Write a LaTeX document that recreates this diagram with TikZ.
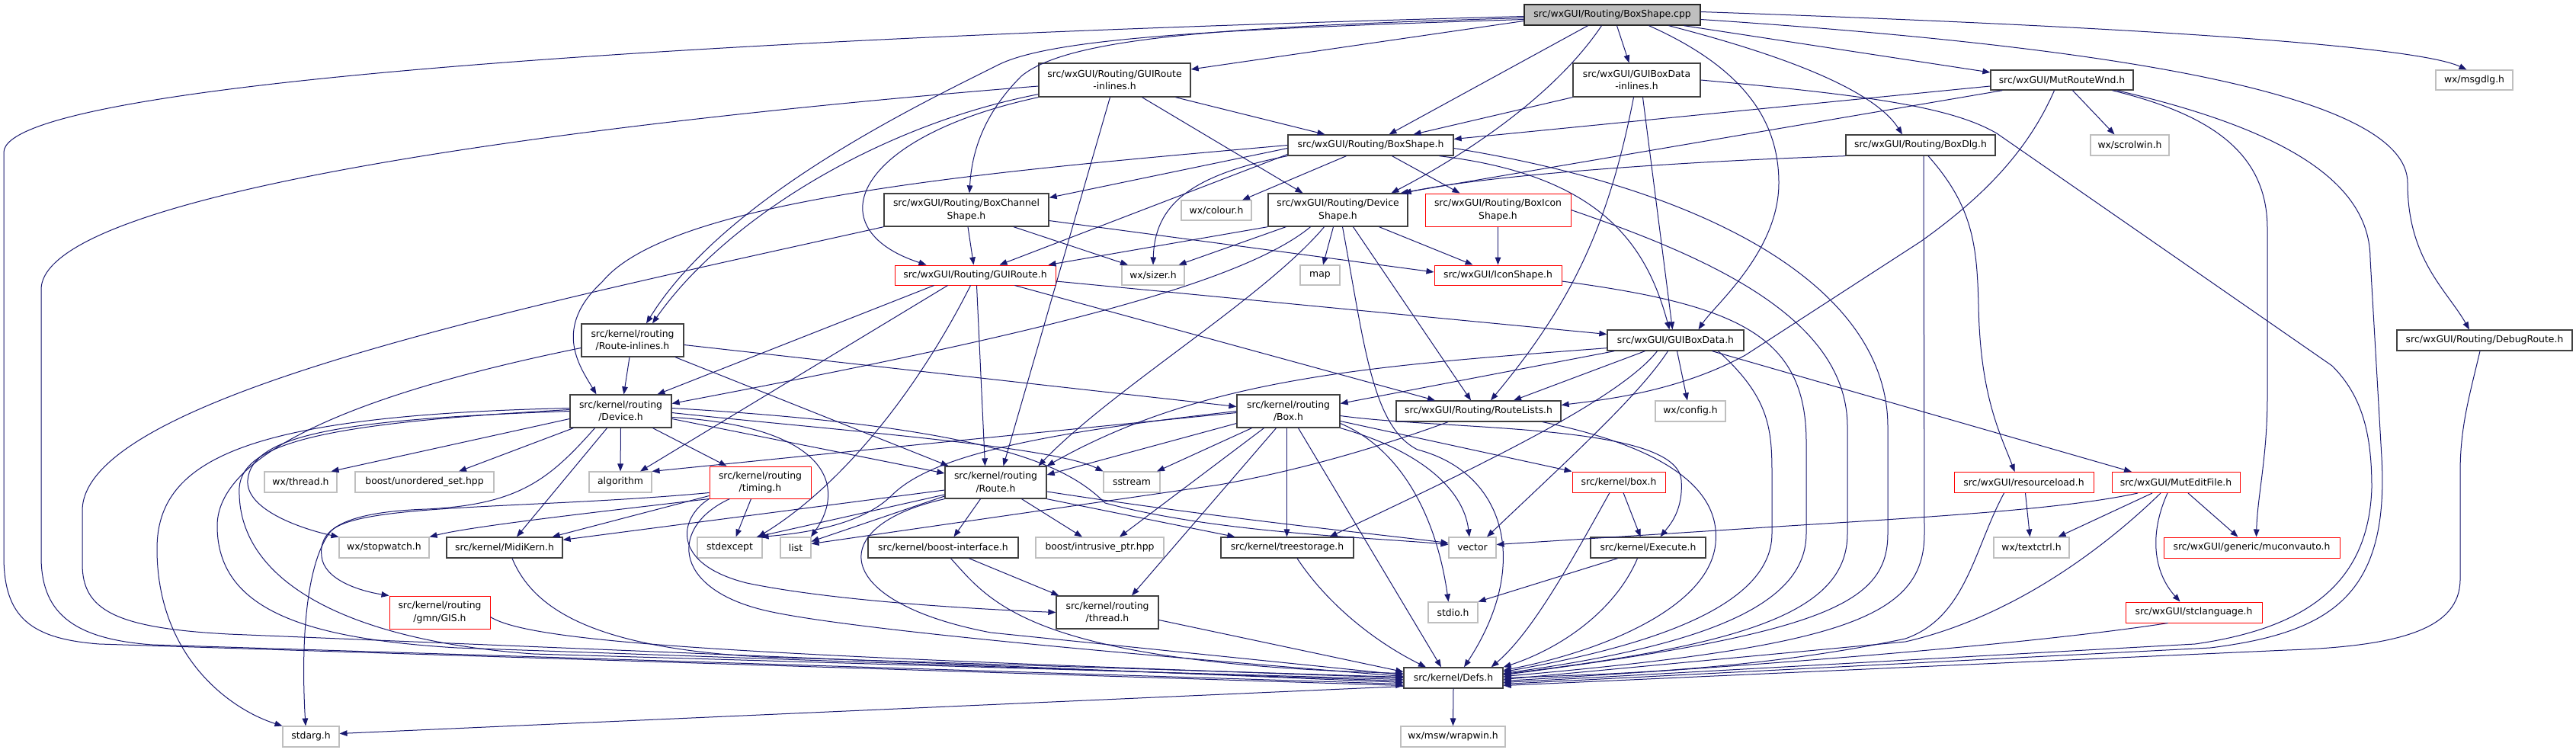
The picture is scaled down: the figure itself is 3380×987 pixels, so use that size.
\documentclass[tikz,border=0pt]{standalone}
\usepackage{fontspec}
\setmainfont{DejaVu Sans}
\usetikzlibrary{arrows.meta}
\definecolor{edgec}{HTML}{191970}
\definecolor{boxgray}{HTML}{BFBFBF}
\definecolor{boxdark}{HTML}{404040}
\newcommand\nodefont{\fontsize{6.2}{8.2}\selectfont}
\newcommand\mynode[6]{\node[#1, minimum width=#4*0.5pt, minimum height=#5*0.5pt] (#2) at (#3) {#6};}
\tikzset{
  nb/.style={draw=boxdark, line width=0.65pt, fill=white, inner sep=0pt, align=center, font=\nodefont},
  nr/.style={nb, draw=red, line width=0.5pt},
  ng/.style={nb, draw=boxgray, line width=0.55pt},
  nc/.style={nb, fill=boxgray, draw=black!85},
  edg/.style={draw=edgec, line width=0.5pt, -{Triangle[length=5pt,width=3.8pt]}}
}
\begin{document}
\begin{tikzpicture}[x=0.5pt,y=-0.5pt]
\fill[white] (0,0) rectangle (3380,987);
\useasboundingbox (0,0) rectangle (3380,987);
% nodes
\mynode{nc}{cpp}{2115.5,19.5}{231}{27}{src/wxGUI/Routing/BoxShape.cpp}
\mynode{nb}{gri}{1462.5,105}{199}{44}{src/wxGUI/Routing/GUIRoute\\-inlines.h}
\mynode{nb}{gbdi}{2147.5,105}{167}{44}{src/wxGUI/GUIBoxData\\-inlines.h}
\mynode{nb}{mrw}{2705.5,105}{187}{26}{src/wxGUI/MutRouteWnd.h}
\mynode{ng}{msg}{3246.5,105}{101}{26}{wx/msgdlg.h}
\mynode{nb}{bsh}{1798.5,190.5}{217}{27}{src/wxGUI/Routing/BoxShape.h}
\mynode{nb}{bdlg}{2520,190.5}{196}{27}{src/wxGUI/Routing/BoxDlg.h}
\mynode{ng}{scr}{2794.5,190.5}{103}{27}{wx/scrolwin.h}
\mynode{nb}{bcs}{1268,275.5}{216}{43}{src/wxGUI/Routing/BoxChannel\\Shape.h}
\mynode{ng}{col}{1596,276}{92}{26}{wx/colour.h}
\mynode{nb}{dsh}{1755.5,275.5}{183}{43}{src/wxGUI/Routing/Device\\Shape.h}
\mynode{nr}{bis}{1965.5,275.5}{191}{43}{src/wxGUI/Routing/BoxIcon\\Shape.h}
\mynode{nr}{gr}{1279.5,361}{211}{26}{src/wxGUI/Routing/GUIRoute.h}
\mynode{ng}{siz}{1513,361}{82}{26}{wx/sizer.h}
\mynode{ng}{map}{1732,361}{52}{26}{map}
\mynode{nr}{ics}{1965.5,361}{167}{26}{src/wxGUI/IconShape.h}
\mynode{nb}{ril}{830,446.5}{134}{43}{src/kernel/routing\\/Route-inlines.h}
\mynode{nb}{gbd}{2198.5,446.5}{179}{27}{src/wxGUI/GUIBoxData.h}
\mynode{nb}{dbg}{3260,446.5}{230}{27}{src/wxGUI/Routing/DebugRoute.h}
\mynode{nb}{dev}{814.5,539.5}{133}{43}{src/kernel/routing\\/Device.h}
\mynode{nb}{box}{1690.5,539.5}{135}{43}{src/kernel/routing\\/Box.h}
\mynode{nb}{rl}{1940,539.5}{216}{27}{src/wxGUI/Routing/RouteLists.h}
\mynode{ng}{cfg}{2218,539.5}{92}{27}{wx/config.h}
\mynode{ng}{thr}{394.5,632.5}{95}{27}{wx/thread.h}
\mynode{ng}{uset}{557,632.5}{182}{27}{boost/unordered\_set.hpp}
\mynode{ng}{alg}{814,632.5}{82}{27}{algorithm}
\mynode{nr}{tim}{997.5,633}{133}{42}{src/kernel/routing\\/timing.h}
\mynode{nb}{rt}{1306.5,633}{133}{42}{src/kernel/routing\\/Route.h}
\mynode{ng}{sst}{1485,632.5}{74}{27}{sstream}
\mynode{nr}{kbox}{2124,632.5}{122}{27}{src/kernel/box.h}
\mynode{nr}{resl}{2655.5,633}{183}{27}{src/wxGUI/resourceload.h}
\mynode{nr}{mef}{2855,633}{168}{27}{src/wxGUI/MutEditFile.h}
\mynode{ng}{sw}{504,718.5}{118}{27}{wx/stopwatch.h}
\mynode{nb}{mk}{662,718.5}{152}{27}{src/kernel/MidiKern.h}
\mynode{ng}{sexc}{957.5,718.5}{85}{27}{stdexcept}
\mynode{ng}{lst}{1044,718.5}{40}{27}{list}
\mynode{nb}{bif}{1237.5,718.5}{197}{27}{src/kernel/boost-interface.h}
\mynode{ng}{iptr}{1443,718.5}{168}{27}{boost/intrusive\_ptr.hpp}
\mynode{nb}{ts}{1689,718.5}{174}{27}{src/kernel/treestorage.h}
\mynode{ng}{vec}{1932,718.5}{62}{27}{vector}
\mynode{nb}{exe}{2162.5,718.5}{151}{27}{src/kernel/Execute.h}
\mynode{ng}{txt}{2665.5,718.5}{99}{27}{wx/textctrl.h}
\mynode{nr}{muc}{2954.5,718.5}{231}{27}{src/wxGUI/generic/muconvauto.h}
\mynode{nr}{gis}{577,803.5}{132}{43}{src/kernel/routing\\/gmn/GIS.h}
\mynode{nb}{rthr}{1453,803.5}{134}{43}{src/kernel/routing\\/thread.h}
\mynode{ng}{stdio}{1906.5,803.5}{65}{27}{stdio.h}
\mynode{nr}{scl}{2878.5,803.5}{179}{27}{src/wxGUI/stclanguage.h}
\mynode{nb}{defs}{1907,889.5}{130}{27}{src/kernel/Defs.h}
\mynode{ng}{stdarg}{408,966.5}{74}{27}{stdarg.h}
\mynode{ng}{wrap}{1906.5,966.5}{137}{27}{wx/msw/wrapwin.h}
% ---- edges ----
% BoxShape.cpp
\draw[edg] ([yshift=-1pt]cpp.west) .. controls (900,50) and (5,110) .. (5,200) -- (5,730) .. controls (5,810) and (40,838) .. (130,845) -- ([yshift=-5pt]defs.west);
\draw[edg] ([yshift=-4pt]cpp.west) -- ([yshift=7pt]gri.east);
\draw[edg] ([yshift=-2pt]cpp.west) .. controls (1600,35) and (1400,50) .. (1340,100) .. controls (1290,150) and (1275,200) .. ([xshift=2pt]bcs.north);
\draw[edg] ([yshift=-3pt]cpp.west) .. controls (1600,38) and (1380,50) .. (1310,85) .. controls (1200,140) and (950,260) .. ([xshift=9pt]ril.north);
\draw[edg] ([xshift=-16pt]cpp.south) -- ([xshift=12pt]bsh.north);
\draw[edg] ([xshift=-7pt]cpp.south) .. controls (2030,140) and (1890,220) .. ([xshift=35pt]dsh.north);
\draw[edg] ([xshift=3pt]cpp.south) -- ([xshift=-5pt]gbdi.north);
\draw[edg] ([xshift=24pt]cpp.south) .. controls (2290,90) and (2334,160) .. (2334,240) .. controls (2334,330) and (2250,400) .. ([xshift=15pt]gbd.north);
\draw[edg] ([xshift=37pt]cpp.south) .. controls (2350,75) and (2460,120) .. ([xshift=-12pt]bdlg.north);
\draw[edg] ([xshift=47pt]cpp.south) -- ([yshift=5pt]mrw.west);
\draw[edg] ([yshift=-3pt]cpp.east) .. controls (2750,60) and (3159,120) .. (3159,240) .. controls (3159,340) and (3210,380) .. ([xshift=-10pt]dbg.north);
\draw[edg] ([yshift=2pt]cpp.east) .. controls (2800,35) and (3170,60) .. ([xshift=-5pt]msg.north);
% GUIRoute-inlines
\draw[edg] ([yshift=-4pt]gri.west) .. controls (900,150) and (54,240) .. (54,380) -- (54,730) .. controls (54,800) and (90,838) .. (200,846) -- ([yshift=-4pt]defs.west);
\draw[edg] ([xshift=40pt]gri.south) -- ([xshift=-30pt]bsh.north);
\draw[edg] ([xshift=18pt]gri.south) -- ([xshift=-23pt]dsh.north);
\draw[edg] (gri.south west) .. controls (1120,180) and (1070,300) .. ([xshift=-32pt]gr.north);
\draw[edg] ([yshift=2pt]gri.south west) .. controls (1150,165) and (950,290) .. ([xshift=13pt]ril.north);
\draw[edg] ([xshift=-3pt]gri.south) -- ([xshift=5pt]rt.north);
% GUIBoxData-inlines
\draw[edg] (gbdi.south west) -- ([xshift=28pt]bsh.north);
\draw[edg] ([xshift=4pt]gbdi.south) -- ([xshift=-2pt]gbd.north);
\draw[edg] ([xshift=-2pt]gbdi.south) .. controls (2110,300) and (2060,400) .. ([xshift=8pt]rl.north);
\draw[edg] (gbdi.east) .. controls (2450,125) and (2560,140) .. (2620,175) -- (3060,480) .. controls (3100,520) and (3112,570) .. (3112,640) .. controls (3108,770) and (3020,825) .. (2880,845) -- ([yshift=-3pt]defs.east);
% MutRouteWnd
\draw[edg] ([yshift=-4pt]mrw.west) -- ([yshift=4pt]bsh.east);
\draw[edg] ([xshift=8pt]mrw.south west) -- ([xshift=-5pt]dsh.north east);
\draw[edg] ([xshift=-5pt]mrw.south) .. controls (2660,200) and (2600,260) .. (2520,317) -- (2290,466) .. controls (2200,515) and (2100,525) .. ([yshift=4pt]rl.east);
\draw[edg] ([xshift=7pt]mrw.south) -- ([xshift=-10pt]scr.north);
\draw[edg] ([xshift=33pt]mrw.south) .. controls (2900,150) and (2975,200) .. (2975,300) -- (2975,520) .. controls (2975,600) and (2962,650) .. ([xshift=3pt]muc.north);
\draw[edg] ([xshift=36pt]mrw.south) .. controls (3000,170) and (3110,240) .. (3110,340) -- (3125,600) .. controls (3135,780) and (3060,830) .. (2900,850) -- ([yshift=-4pt]defs.east);
% BoxDlg
\draw[edg] (bdlg.south west) .. controls (2200,212) and (1950,230) .. ([xshift=-3pt]dsh.north east);
\draw[edg] ([xshift=5pt]bdlg.south) .. controls (2588,270) and (2594,320) .. (2596,400) .. controls (2598,520) and (2625,570) .. ([xshift=-6pt]resl.north);
\draw[edg] ([xshift=2pt]bdlg.south) -- (2525,700) .. controls (2525,810) and (2420,848) .. ([yshift=1pt]defs.east);
% DebugRoute
\draw[edg] ([xshift=-3pt]dbg.south) .. controls (3240,520) and (3228,560) .. (3228,620) -- (3228,760) .. controls (3228,825) and (3150,848) .. (3000,853) -- ([yshift=-5pt]defs.east);
% BoxShape.h
\draw[edg] ([yshift=-2pt]bsh.west) -- ([yshift=-3pt]bcs.north east);
\draw[edg] ([xshift=-16pt]bsh.south) -- ([xshift=17pt]col.north);
\draw[edg] (bsh.south west) .. controls (1560,230) and (1515,270) .. (siz.north);
\draw[edg] ([yshift=-6pt]bsh.west) -- ([xshift=16pt]gr.north);
\draw[edg] ([xshift=14pt]bsh.south) -- ([xshift=-25pt]bis.north);
\draw[edg] ([xshift=45pt]bsh.south) .. controls (2100,230) and (2160,320) .. ([xshift=-4pt]gbd.north);
\draw[edg] ([yshift=-2pt]bsh.east) .. controls (2250,250) and (2477,380) .. (2477,560) -- (2477,700) .. controls (2477,790) and (2400,830) .. ([yshift=2pt]defs.east);
\draw[edg] (bsh.west) .. controls (1300,225) and (880,260) .. (790,370) .. controls (725,430) and (760,480) .. ([xshift=-16pt]dev.north);
% BoxChannelShape
\draw[edg] ([yshift=-7pt]bcs.east) -- ([yshift=2pt]ics.west);
\draw[edg] ([xshift=31pt]bcs.south) -- ([xshift=-16.5pt]siz.north);
\draw[edg] ([xshift=1pt]bcs.south) -- ([xshift=-1pt]gr.north);
\draw[edg] (bcs.south west) .. controls (700,400) and (108,520) .. (108,670) -- (108,740) .. controls (108,800) and (150,824) .. (300,832) -- ([yshift=-3pt]defs.west);
% DeviceShape
\draw[edg] ([xshift=-3pt]dsh.south) -- ([xshift=2pt]map.north);
\draw[edg] ([xshift=27pt]dsh.south) -- ([xshift=-16.5pt]ics.north);
\draw[edg] (dsh.south west) -- ([xshift=-5pt]gr.north east);
\draw[edg] ([xshift=12pt]dsh.south west) -- ([xshift=-4pt]siz.north east);
\draw[edg] ([xshift=-18pt]dsh.south) .. controls (1620,380) and (1300,450) .. ([yshift=5pt]dev.east);
\draw[edg] ([xshift=-9pt]dsh.south) .. controls (1660,390) and (1460,510) .. ([xshift=28pt]rt.north);
\draw[edg] ([xshift=10pt]dsh.south) -- ([xshift=-5pt]rl.north);
\draw[edg] ([xshift=3pt]dsh.south) .. controls (1790,450) and (1800,560) .. (1860,590) .. controls (1975,620) and (2010,740) .. ([xshift=7pt]defs.north);
% BoxIconShape
\draw[edg] (bis.south) -- (ics.north);
\draw[edg] (bis.east) .. controls (2250,340) and (2424,420) .. (2424,560) -- (2424,700) .. controls (2424,800) and (2300,845) .. ([yshift=2.5pt]defs.east);
% IconShape
\draw[edg] ([yshift=-4pt]ics.east) .. controls (2280,400) and (2370,440) .. (2370,580) -- (2370,700) .. controls (2370,790) and (2250,845) .. ([yshift=3pt]defs.east);
% GUIBoxData
\draw[edg] ([xshift=5pt]gbd.south west) -- ([yshift=5pt]box.east);
\draw[edg] ([xshift=-20pt]gbd.south) -- ([xshift=23pt]rl.north);
\draw[edg] ([xshift=-12pt]gbd.south) .. controls (2120,530) and (1900,630) .. ([xshift=-16pt]ts.north east);
\draw[edg] ([xshift=-5pt]gbd.south) .. controls (2150,520) and (2050,610) .. ([xshift=9.5pt]vec.north);
\draw[edg] ([xshift=1pt]gbd.south) -- ([xshift=-2pt]cfg.north);
\draw[edg] ([xshift=24pt]gbd.south) -- ([xshift=-29pt]mef.north);
\draw[edg] ([yshift=2pt]gbd.south west) .. controls (1800,480) and (1580,495) .. (rt.north east);
\draw[edg] ([xshift=28pt]gbd.south) .. controls (2320,520) and (2325,560) .. (2325,620) -- (2325,700) .. controls (2325,800) and (2150,850) .. ([yshift=4pt]defs.east);
% GUIRoute.h
\draw[edg] ([xshift=-27pt]gr.south) -- ([xshift=24pt]dev.north);
\draw[edg] ([xshift=-18pt]gr.south) -- ([xshift=13pt]alg.north);
\draw[edg] ([xshift=-3pt]gr.south) .. controls (1200,520) and (1100,640) .. ([xshift=-3pt]sexc.north east);
\draw[edg] ([xshift=1pt]gr.south) -- ([xshift=-7pt]rt.north);
\draw[edg] ([xshift=26pt]gr.south) -- ([xshift=-28.5pt]rl.north);
\draw[edg] ([yshift=-4pt]gr.east) -- ([yshift=4pt]gbd.west);
% Route-inlines
\draw[edg] ([yshift=-5pt]ril.west) .. controls (450,520) and (285,600) .. (285,690) .. controls (285,800) and (400,838) .. (600,850) -- ([yshift=-2pt]defs.west);
\draw[edg] ([xshift=-2pt]ril.south) -- ([xshift=2pt]dev.north);
\draw[edg] ([xshift=28pt]ril.south) -- ([xshift=-31pt]rt.north);
\draw[edg] ([yshift=-3pt]ril.east) -- ([yshift=3pt]box.west);
% Device.h
\draw[edg] ([yshift=-5pt]dev.west) -- ([xshift=-4pt]thr.north east);
\draw[edg] ([xshift=2.5pt]dev.south west) -- ([xshift=22.5pt]uset.north);
\draw[edg] (dev.south) -- (alg.north);
\draw[edg] ([xshift=-9pt]dev.south) -- ([xshift=8pt]mk.north);
\draw[edg] ([xshift=-17pt]dev.south) .. controls (720,630) and (680,662) .. (560,668) .. controls (440,672) and (418,700) .. (422,730) .. controls (425,760) and (470,775) .. (gis.north west);
\draw[edg] (dev.west) .. controls (450,550) and (330,570) .. (325,630) .. controls (322,670) and (400,695) .. (sw.north west);
\draw[edg] ([yshift=1pt]dev.west) .. controls (430,555) and (318,580) .. (314,640) .. controls (310,760) and (450,840) .. (700,858) -- ([yshift=-1pt]defs.west);
\draw[edg] ([yshift=2pt]dev.west) .. controls (330,545) and (206,600) .. (206,720) .. controls (206,860) and (300,930) .. (stdarg.north west);
\draw[edg] ([xshift=21pt]dev.south) -- ([xshift=-22pt]tim.north);
\draw[edg] ([yshift=-5pt]dev.east) -- ([yshift=6pt]rt.west);
\draw[edg] ([yshift=-1pt]dev.east) .. controls (1100,565) and (1380,585) .. (sst.north west);
\draw[edg] ([yshift=-4pt]dev.east) .. controls (1090,560) and (1110,640) .. ([xshift=10pt]lst.north);
\draw[edg] ([yshift=2pt]dev.east) .. controls (1300,560) and (1400,610) .. (1450,660) .. controls (1600,700) and (1800,705) .. ([yshift=2pt]vec.west);
% timing.h
\draw[edg] ([xshift=-6pt]tim.south) -- ([xshift=4pt]sexc.north);
\draw[edg] (tim.south west) .. controls (800,670) and (620,690) .. (sw.north east);
\draw[edg] ([yshift=2pt]tim.south west) -- ([xshift=-7pt]mk.north east);
\draw[edg] ([yshift=4pt]tim.south west) .. controls (700,668) and (470,660) .. (434,697) .. controls (400,740) and (395,850) .. ([xshift=-3.5pt]stdarg.north);
\draw[edg] ([xshift=-20pt]tim.south) .. controls (880,690) and (880,770) .. (1000,800) .. controls (1100,825) and (1500,860) .. ([yshift=1pt]defs.west);
\draw[edg] (tim.south west) .. controls (890,680) and (880,740) .. (980,765) .. controls (1100,790) and (1300,800) .. (rthr.west);
% Route.h
\draw[edg] ([yshift=-5pt]rt.west) -- ([yshift=-2pt]mk.north east);
\draw[edg] ([yshift=-8pt]rt.west) -- ([xshift=-4pt]sexc.north east);
\draw[edg] ([yshift=-9pt]rt.west) -- ([yshift=4pt]lst.east);
\draw[edg] ([xshift=-10pt]rt.south) -- ([xshift=7pt]bif.north);
\draw[edg] ([xshift=17pt]rt.south) -- ([xshift=-11.5pt]iptr.north);
\draw[edg] (rt.south east) -- ([xshift=9.5pt]ts.north west);
\draw[edg] ([yshift=-6pt]rt.east) .. controls (1600,680) and (1800,700) .. ([yshift=3pt]vec.west);
\draw[edg] (rt.south west) .. controls (1080,690) and (1090,790) .. (1300,830) -- ([yshift=2pt]defs.west);
% Box.h
\draw[edg] ([yshift=-1pt]box.west) -- (alg.north east);
\draw[edg] (box.west) .. controls (1350,570) and (1220,600) .. (1170,650) .. controls (1130,690) and (1050,700) .. ([xshift=-1pt]sexc.north east);
\draw[edg] ([yshift=-8pt]box.west) -- ([yshift=5pt]rt.east);
\draw[edg] ([xshift=-24pt]box.south) -- ([xshift=16.5pt]sst.north);
\draw[edg] ([xshift=-16pt]box.south) -- ([xshift=13pt]iptr.north);
\draw[edg] ([xshift=-8pt]box.south) -- ([xshift=16pt]rthr.north);
\draw[edg] ([xshift=-1pt]box.south) -- ([xshift=-0.25pt]ts.north);
\draw[edg] ([xshift=6.5pt]box.south) -- ([xshift=-8pt]defs.north);
\draw[edg] ([yshift=-6.5pt]box.east) -- (kbox.north west);
\draw[edg] ([yshift=-8pt]box.east) .. controls (1840,590) and (1885,680) .. ([xshift=-3pt]stdio.north);
\draw[edg] (box.south east) .. controls (1860,590) and (1920,640) .. ([xshift=-2pt]vec.north);
\draw[edg] ([yshift=-3pt]box.east) .. controls (1900,565) and (2200,555) .. (2206,630) .. controls (2209,670) and (2190,690) .. ([xshift=8pt]exe.north);
% RouteLists
\draw[edg] ([xshift=-20pt]rl.south) .. controls (1800,590) and (1700,618) .. (1600,636) -- ([yshift=2.5pt]lst.east);
\draw[edg] ([xshift=42pt]rl.south) .. controls (2200,590) and (2262,650) .. (2250,720) .. controls (2235,800) and (2100,855) .. ([yshift=5pt]defs.east);
% kernel/box.h
\draw[edg] ([xshift=3pt]kbox.south) -- ([xshift=-5pt]exe.north);
\draw[edg] ([xshift=-6pt]kbox.south) .. controls (2060,740) and (2010,830) .. ([xshift=-8pt]defs.north east);
% Execute
\draw[edg] ([xshift=-20pt]exe.south) -- (stdio.north east);
\draw[edg] ([xshift=-7pt]exe.south) .. controls (2120,800) and (2050,850) .. (defs.north east);
% treestorage
\draw[edg] ([xshift=6.5pt]ts.south) .. controls (1740,790) and (1800,840) .. ([xshift=-18pt]defs.north);
% boost-interface
\draw[edg] ([xshift=17pt]bif.south) -- ([xshift=2pt]rthr.north west);
\draw[edg] ([xshift=5pt]bif.south) .. controls (1300,790) and (1350,870) .. ([yshift=3pt]defs.west);
% routing/thread
\draw[edg] ([yshift=-5pt]rthr.east) -- ([yshift=4pt]defs.west);
% MidiKern
\draw[edg] ([xshift=5pt]mk.south) .. controls (700,800) and (780,850) .. (1000,862) -- ([yshift=0.5pt]defs.west);
% GIS
\draw[edg] ([yshift=-3pt]gis.east) .. controls (700,845) and (1000,860) .. (defs.west);
% resourceload
\draw[edg] ([xshift=1pt]resl.south) -- ([xshift=-1pt]txt.north);
\draw[edg] ([xshift=-13pt]resl.south) .. controls (2590,720) and (2580,810) .. (2500,838) .. controls (2300,880) and (2100,885) .. (defs.east);
% MutEditFile
\draw[edg] ([xshift=-15.5pt]mef.south) -- ([xshift=17.5pt]txt.north);
\draw[edg] ([xshift=8pt]mef.south) -- ([xshift=-9pt]muc.north);
\draw[edg] ([xshift=-5.5pt]mef.south) .. controls (2820,700) and (2825,750) .. ([xshift=-9pt]scl.north);
\draw[edg] ([xshift=-10pt]mef.south) .. controls (2760,720) and (2640,810) .. (2500,842) -- ([yshift=-1pt]defs.east);
\draw[edg] ([xshift=-25pt]mef.south) .. controls (2700,670) and (2500,680) .. (2300,693) -- ([yshift=2pt]vec.east);
% stclanguage
\draw[edg] ([xshift=-17pt]scl.south) .. controls (2700,840) and (2400,868) .. ([yshift=-2pt]defs.east);
% Defs
\draw[edg] ([yshift=-5.5pt]defs.west) -- ([yshift=2pt]stdarg.east);
\draw[edg] (defs.south) -- (wrap.north);
\end{tikzpicture}
\end{document}
